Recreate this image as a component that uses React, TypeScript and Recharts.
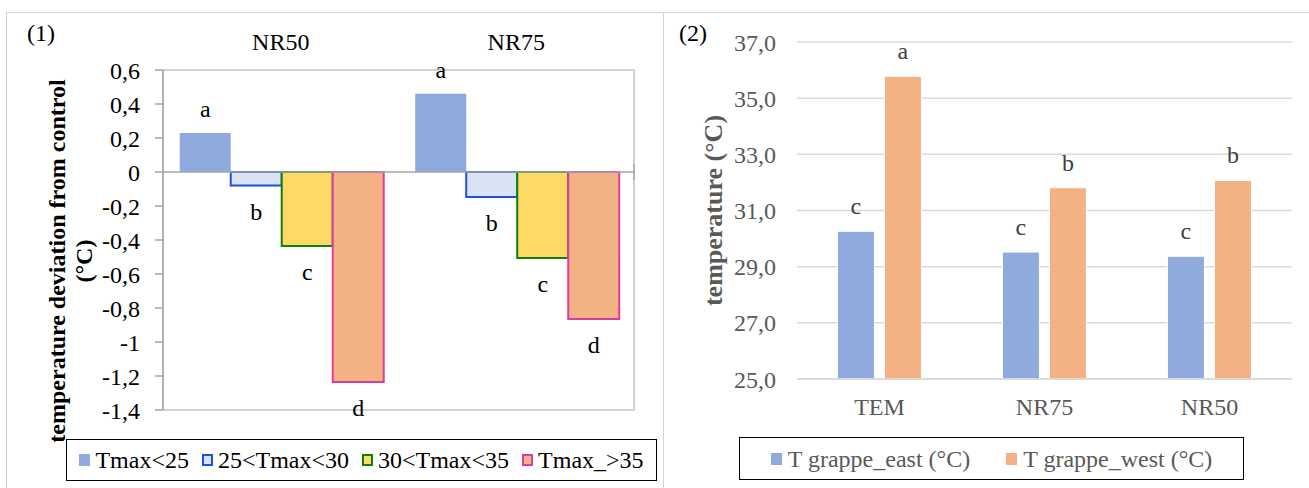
import React from 'react';
import {
  BarChart,
  Bar,
  XAxis,
  YAxis,
  CartesianGrid,
  ReferenceArea,
  ReferenceLine,
  LabelList,
  Legend,
} from 'recharts';

const serif = '"Liberation Serif", "Times New Roman", serif';

// (1) deviation from control, per Tmax class
const groups = ['NR50', 'NR75'];
const tmaxBelow25 = [0.23, 0.46];
const tmax25to30 = [-0.08, -0.147];
const tmax30to35 = [-0.435, -0.506];
const tmaxAbove35 = [-1.235, -0.865];
const lettersBelow25 = ['a', 'a'];
const letters25to30 = ['b', 'b'];
const letters30to35 = ['c', 'c'];
const lettersAbove35 = ['d', 'd'];
const deviationTicks = [0.6, 0.4, 0.2, 0, -0.2, -0.4, -0.6, -0.8, -1, -1.2, -1.4];

// (2) bunch temperature
const treatments = ['TEM', 'NR75', 'NR50'];
const eastTemp = [30.26, 29.52, 29.37];
const westTemp = [35.78, 31.81, 32.07];
const eastLetters = ['c', 'c', 'c'];
const westLetters = ['a', 'b', 'b'];
const tempTicks = [25, 27, 29, 31, 33, 35, 37];

const leftSeries = [
  { key: 's1', name: 'Tmax<25', values: tmaxBelow25, letters: lettersBelow25, fill: '#8faadc', stroke: 'none' },
  { key: 's2', name: '25<Tmax<30', values: tmax25to30, letters: letters25to30, fill: '#dae3f3', stroke: '#1d4fe6' },
  { key: 's3', name: '30<Tmax<35', values: tmax30to35, letters: letters30to35, fill: '#ffd966', stroke: '#0e7f0e' },
  { key: 's4', name: 'Tmax_>35', values: tmaxAbove35, letters: lettersAbove35, fill: '#f4b183', stroke: '#dc3c9f' },
];

const rightSeries = [
  { key: 'east', name: 'T grappe_east (°C)', values: eastTemp, letters: eastLetters, fill: '#8faadc' },
  { key: 'west', name: 'T grappe_west (°C)', values: westTemp, letters: westLetters, fill: '#f4b183' },
];

const leftRows = groups.map((group, i) => {
  const row: any = { group };
  leftSeries.forEach((s) => {
    row[s.key] = s.values[i];
    row[s.key + 'L'] = s.letters[i];
  });
  return row;
});

const rightRows = treatments.map((treatment, i) => {
  const row: any = { treatment };
  rightSeries.forEach((s) => {
    row[s.key] = s.values[i];
    row[s.key + 'L'] = s.letters[i];
  });
  return row;
});

const commaFormat = (v: number) => String(v).replace('.', ',');

// letter above positive bars, below negative ones
const makeLetter = (values: number[], color: string, above: number, below: number) => (props: any) => {
  const vb = props.viewBox || props;
  const x = Number(vb.x ?? props.x);
  const y = Number(vb.y ?? props.y);
  const w = Number(vb.width ?? props.width);
  const h = Number(vb.height ?? props.height);
  const top = Math.min(y, y + h);
  const bottom = Math.max(y, y + h);
  const v = values[props.index];
  const ty = v >= 0 ? top - above : bottom + below;
  return (
    <text x={x + w / 2} y={ty} textAnchor="middle" fill={color} fontSize={24} fontFamily={serif}>
      {props.value}
    </text>
  );
};

const GroupTick = (props: any) => (
  <text x={props.x} y={props.y - 20} textAnchor="middle" fill="#000" fontSize={24} fontFamily={serif}>
    {props.payload.value}
  </text>
);

const TreatmentTick = (props: any) => (
  <text x={props.x} y={props.y + 36} textAnchor="middle" fill="#595959" fontSize={24} fontFamily={serif}>
    {props.payload.value}
  </text>
);

const LeftYLabel = (props: any) => {
  const vb = props.viewBox || { x: 103, y: 70, width: 60, height: 340 };
  const cy = vb.y + vb.height / 2 + 21;
  const x1 = vb.x - 46;
  const x2 = vb.x - 19;
  return (
    <g fontFamily={serif} fontWeight="bold" fontSize={24} fill="#000">
      <text x={x1} y={cy} textAnchor="middle" dominantBaseline="central" transform={`rotate(-90 ${x1} ${cy})`}>
        temperature deviation from control
      </text>
      <text x={x2} y={cy} textAnchor="middle" dominantBaseline="central" transform={`rotate(-90 ${x2} ${cy})`}>
        (°C)
      </text>
    </g>
  );
};

const RightYLabel = (props: any) => {
  const vb = props.viewBox || { x: 74, y: 42, width: 60, height: 337 };
  const cy = vb.y + vb.height / 2;
  const x = vb.x - 24;
  return (
    <text
      x={x}
      y={cy}
      textAnchor="middle"
      dominantBaseline="central"
      transform={`rotate(-90 ${x} ${cy})`}
      fontFamily={serif}
      fontWeight="bold"
      fontSize={26}
      fill="#595959"
    >
      temperature (°C)
    </text>
  );
};

const LeftLegend = () => (
  <div
    style={{
      boxSizing: 'border-box',
      width: '100%',
      height: 42,
      border: '1.5px solid #000',
      display: 'flex',
      alignItems: 'center',
      justifyContent: 'center',
      gap: 13,
      fontFamily: serif,
      fontSize: 24,
      color: '#000',
    }}
  >
    {leftSeries.map((s) => (
      <div key={s.key} style={{ display: 'flex', alignItems: 'center' }}>
        <span
          style={{
            boxSizing: 'border-box',
            width: 11,
            height: 12,
            background: s.fill,
            border: s.stroke === 'none' ? 'none' : `2px solid ${s.stroke}`,
            marginRight: 5,
          }}
        />
        <span style={{ lineHeight: '24px' }}>{s.name}</span>
      </div>
    ))}
  </div>
);

const RightLegend = () => (
  <div
    style={{
      boxSizing: 'border-box',
      width: '100%',
      height: 43,
      border: '1.5px solid #000',
      display: 'flex',
      alignItems: 'center',
      justifyContent: 'center',
      gap: 36,
      fontFamily: serif,
      fontSize: 24,
      color: '#595959',
    }}
  >
    {rightSeries.map((s) => (
      <div key={s.key} style={{ display: 'flex', alignItems: 'center' }}>
        <span style={{ width: 11, height: 12, background: s.fill, marginRight: 6 }} />
        <span style={{ lineHeight: '24px' }}>{s.name}</span>
      </div>
    ))}
  </div>
);

const panelLabel: React.CSSProperties = {
  position: 'absolute',
  fontFamily: serif,
  fontSize: 24,
  lineHeight: '24px',
  color: '#000',
};

export default function App() {
  return (
    <div
      style={{
        position: 'absolute',
        left: 0,
        top: 0,
        width: 1309,
        height: 488,
        background: '#fff',
        overflow: 'hidden',
        fontFamily: serif,
      }}
    >
      <style>{`.recharts-wrapper text { font-family: "Liberation Serif", "Times New Roman", serif; }`}</style>
      {/* table cell borders */}
      <div style={{ position: 'absolute', left: 6, top: 12, width: 1303, height: 0, borderTop: '1.5px solid #d4d4d4' }} />
      <div style={{ position: 'absolute', left: 6, top: 12, width: 0, height: 476, borderLeft: '1.5px solid #d4d4d4' }} />
      <div style={{ position: 'absolute', left: 663, top: 12, width: 0, height: 476, borderLeft: '1.5px solid #d4d4d4' }} />

      <div style={{ position: 'absolute', left: 0, top: 0 }}>
        <BarChart
          width={663}
          height={488}
          data={leftRows}
          margin={{ top: 30, right: 29, bottom: 78, left: 103 }}
          barCategoryGap="7.1%"
          barGap={0}
        >
          <XAxis
            dataKey="group"
            orientation="top"
            axisLine={false}
            tickLine={false}
            tickSize={0}
            tickMargin={0}
            height={40}
            interval={0}
            tick={<GroupTick />}
          />
          <XAxis xAxisId="frame" type="number" domain={[0, 2]} allowDataOverflow hide />
          <YAxis
            width={60}
            domain={[-1.4, 0.6]}
            ticks={deviationTicks}
            interval={0}
            allowDataOverflow
            tickFormatter={commaFormat}
            axisLine={{ stroke: '#a6a6a6', strokeWidth: 1.5 }}
            tickLine={{ stroke: '#a6a6a6', strokeWidth: 1.5 }}
            tickSize={8}
            tickMargin={15}
            tick={{ fill: '#000', fontSize: 24, fontFamily: serif }}
            label={<LeftYLabel />}
          />
          <ReferenceArea y1={-1.4} y2={0.6} fill="none" stroke="#c4c4c4" strokeWidth={1.5} fillOpacity={0} />
          <ReferenceLine y={0} stroke="#a6a6a6" strokeWidth={1.5} />
          {leftSeries.map((s) => (
            <Bar
              key={s.key}
              dataKey={s.key}
              name={s.name}
              fill={s.fill}
              stroke={s.stroke}
              strokeWidth={s.stroke === 'none' ? 0 : 2}
              isAnimationActive={false}
            >
              <LabelList dataKey={s.key + 'L'} content={makeLetter(s.values, '#000', 16, 34)} />
            </Bar>
          ))}
          <ReferenceLine
            xAxisId="frame"
            segment={[{ x: 1, y: 0.045 }, { x: 1, y: -0.045 }]}
            stroke="#a6a6a6"
            strokeWidth={1.5}
          />
          <ReferenceLine
            xAxisId="frame"
            segment={[{ x: 2, y: 0 }, { x: 2, y: -0.045 }]}
            stroke="#a6a6a6"
            strokeWidth={1.5}
          />
          <Legend
            layout="horizontal"
            verticalAlign="middle"
            align="center"
            content={<LeftLegend />}
            wrapperStyle={{ position: 'absolute', left: 66, top: 439, width: 591, height: 42 }}
          />
        </BarChart>
        <div style={{ ...panelLabel, left: 27, top: 21 }}>(1)</div>
      </div>

      <div style={{ position: 'absolute', left: 663, top: 0 }}>
        <BarChart
          width={646}
          height={488}
          data={rightRows}
          margin={{ top: 42, right: 17, bottom: 69, left: 74 }}
          barCategoryGap="24.5%"
          barGap={10}
        >
          <CartesianGrid vertical={false} stroke="#d9d9d9" strokeWidth={1.5} />
          <XAxis
            dataKey="treatment"
            axisLine={{ stroke: '#d9d9d9', strokeWidth: 1.5 }}
            tickLine={false}
            tickSize={0}
            tickMargin={0}
            height={40}
            interval={0}
            tick={<TreatmentTick />}
          />
          <YAxis
            width={60}
            domain={[25, 37]}
            ticks={tempTicks}
            interval={0}
            allowDataOverflow
            tickFormatter={(v: number) => v.toFixed(1).replace('.', ',')}
            axisLine={false}
            tickLine={false}
            tickSize={0}
            tickMargin={21}
            tick={{ fill: '#595959', fontSize: 24, fontFamily: serif }}
            label={<RightYLabel />}
          />
          {rightSeries.map((s) => (
            <Bar
              key={s.key}
              dataKey={s.key}
              name={s.name}
              fill={s.fill}
              stroke="#ffffff"
              strokeWidth={1}
              isAnimationActive={false}
            >
              <LabelList dataKey={s.key + 'L'} content={makeLetter(s.values, '#404040', 17, 30)} />
            </Bar>
          ))}
          <Legend
            layout="horizontal"
            verticalAlign="middle"
            align="center"
            content={<RightLegend />}
            wrapperStyle={{ position: 'absolute', left: 76, top: 437, width: 505, height: 43 }}
          />
        </BarChart>
        <div style={{ ...panelLabel, left: 16, top: 21 }}>(2)</div>
      </div>
    </div>
  );
}
